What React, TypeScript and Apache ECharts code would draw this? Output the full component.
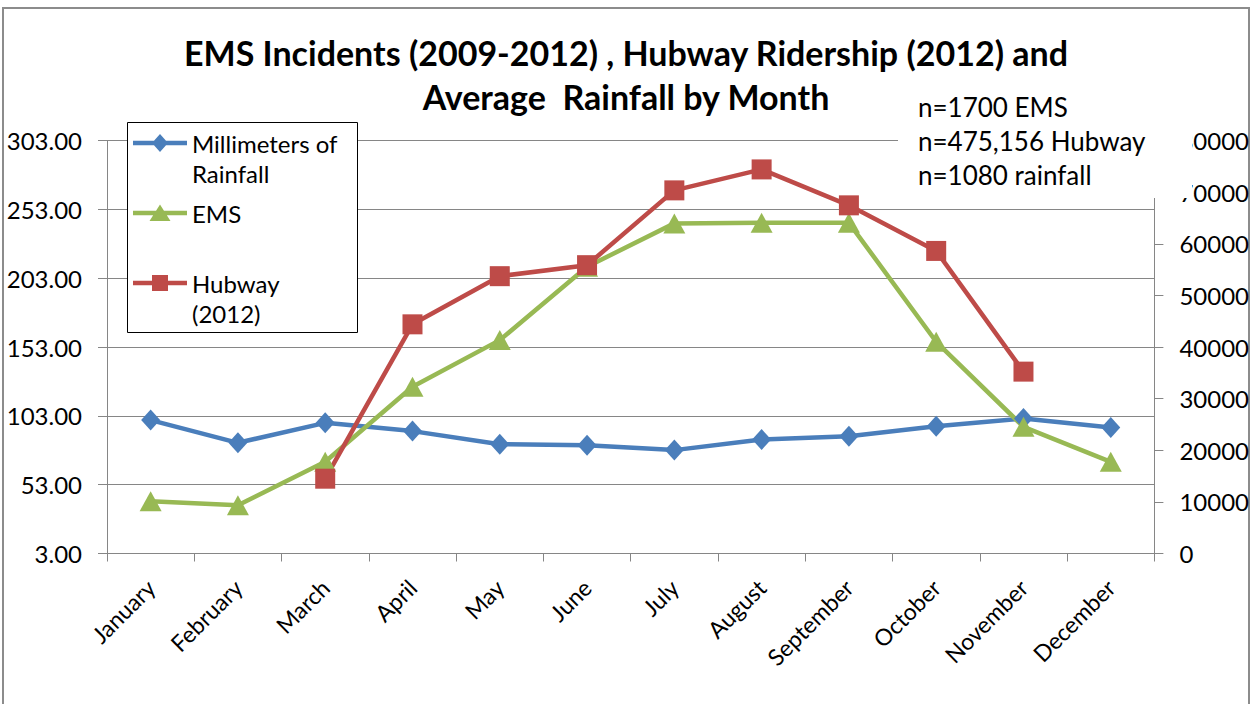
import React, { useEffect, useRef } from "react";
import * as echarts from "echarts";

const months = ["January", "February", "March", "April", "May", "June", "July", "August", "September", "October", "November", "December"];
const rainfall = [99.9, 83.4, 97.9, 91.9, 82.4, 81.7, 78.1, 85.8, 88.2, 95.5, 101.1, 94.6];
const ems = [41.0, 38.1, 69.6, 124.1, 158.0, 211.3, 242.8, 243.2, 243.2, 156.8, 95.0, 69.6];
const hubway = [null, null, 14490, 44390, 53720, 55850, 70340, 74400, 67440, 58610, 35230, null];
const leftAxis = { min: 3, max: 303, interval: 50 };
const rightAxis = { min: 0, max: 80000, interval: 10000 };
const notes = ["n=1700 EMS", "n=475,156 Hubway", "n=1080 rainfall"];
const titleText = "EMS Incidents (2009-2012) , Hubway Ridership (2012) and\nAverage  Rainfall by Month";
const legendNames = ["Millimeters of\nRainfall", "EMS\n ", "Hubway\n(2012)"];

const FONT = "Lato, 'Open Sans', sans-serif";
const BLUE = "#4A7EBB";
const GREEN = "#98B954";
const RED = "#BE4B48";
const GRID = "#868686";

// legend icons: a 54x60 box, line + marker aligned with the first text line
const CORNERS = "M0 0 L0.2 0 L0 0.2 Z M54 60 L53.8 60 L54 59.8 Z ";
const LINE = "M0 12.75 L54 12.75 L54 17.25 L0 17.25 Z ";
const ICON_DIAMOND = "path://" + CORNERS + LINE + "M27 6 L35 15 L27 24 L19 15 Z";
const ICON_TRIANGLE = "path://" + CORNERS + LINE + "M27 6.5 L37.5 23 L16.5 23 Z";
const ICON_SQUARE = "path://" + CORNERS + LINE + "M19 7 L35 7 L35 23 L19 23 Z";

export default function App() {
  const ref = useRef<HTMLDivElement>(null);
  useEffect(() => {
    if (!ref.current) return;
    const chart = echarts.init(ref.current, null, { renderer: "svg" });
    chart.setOption({
      animation: false,
      backgroundColor: "#ffffff",
      textStyle: { fontFamily: FONT },
      title: {
        text: titleText,
        left: "center",
        top: 30,
        padding: 0,
        textStyle: { fontFamily: FONT, fontWeight: "bold", fontSize: 34, lineHeight: 44, color: "#000" },
      },
      grid: { left: 107, right: 97, top: 140.5, bottom: 150.5, containLabel: false },
      legend: {
        orient: "vertical",
        left: 133,
        top: 128,
        padding: 0,
        itemGap: 10,
        itemWidth: 54,
        itemHeight: 60,
        z: 4,
        data: [
          { name: legendNames[0], icon: ICON_DIAMOND },
          { name: legendNames[1], icon: ICON_TRIANGLE },
          { name: legendNames[2], icon: ICON_SQUARE },
        ],
        textStyle: { fontFamily: FONT, fontSize: 24, lineHeight: 30, color: "#000" },
      },
      xAxis: {
        type: "category",
        data: months,
        boundaryGap: true,
        axisLine: { lineStyle: { color: GRID, width: 1 } },
        axisTick: { show: true, length: 8, lineStyle: { color: GRID } },
        axisLabel: { rotate: 45, fontSize: 23, color: "#000", margin: 30, fontFamily: FONT, interval: 0 },
        splitLine: { show: false },
      },
      yAxis: [
        {
          type: "value",
          min: leftAxis.min,
          max: leftAxis.max,
          interval: leftAxis.interval,
          position: "left",
          axisLine: { show: true, lineStyle: { color: GRID, width: 1 } },
          axisTick: { show: true, length: 9, lineStyle: { color: GRID } },
          axisLabel: { fontSize: 24, color: "#000", margin: 25, fontFamily: FONT, formatter: (v: number) => v.toFixed(2) },
          splitLine: { show: true, lineStyle: { color: GRID, width: 1 } },
        },
        {
          type: "value",
          min: rightAxis.min,
          max: rightAxis.max,
          interval: rightAxis.interval,
          position: "right",
          axisLine: { show: true, lineStyle: { color: GRID, width: 1 } },
          axisTick: { show: true, length: 9, lineStyle: { color: GRID } },
          axisLabel: { fontSize: 24, color: "#000", margin: 25, fontFamily: FONT, formatter: (v: number) => String(v) },
          splitLine: { show: false },
        },
      ],
      series: [
        {
          name: legendNames[0],
          type: "line",
          yAxisIndex: 0,
          data: rainfall,
          symbol: "diamond",
          symbolSize: [19, 21],
          lineStyle: { color: BLUE, width: 4.5 },
          itemStyle: { color: BLUE },
        },
        {
          name: legendNames[1],
          type: "line",
          yAxisIndex: 0,
          data: ems,
          symbol: "triangle",
          symbolSize: [22, 20],
          lineStyle: { color: GREEN, width: 4.5 },
          itemStyle: { color: GREEN },
        },
        {
          name: legendNames[2],
          type: "line",
          yAxisIndex: 1,
          data: hubway,
          connectNulls: false,
          symbol: "rect",
          symbolSize: 20,
          lineStyle: { color: RED, width: 4.5 },
          itemStyle: { color: RED },
        },
      ],
      graphic: [
        {
          type: "rect",
          z: 0,
          silent: true,
          shape: { x: 3, y: 8, width: 1246, height: 720 },
          style: { fill: "transparent", stroke: "#8c8c8c", lineWidth: 2 },
        },
        {
          type: "rect",
          z: 3,
          silent: true,
          shape: { x: 127.5, y: 122.5, width: 230, height: 210 },
          style: { fill: "#ffffff", stroke: "#000000", lineWidth: 1 },
        },
        {
          type: "rect",
          z: 10,
          silent: true,
          shape: { x: 898, y: 84, width: 294, height: 114 },
          style: { fill: "#ffffff" },
        },
        ...notes.map((t, i) => ({
          type: "text",
          z: 11,
          silent: true,
          x: 918,
          y: 107 + i * 34,
          style: { text: t, fontFamily: FONT, fontSize: 26, fill: "#000", verticalAlign: "middle" },
        })),
      ],
    });
    return () => chart.dispose();
  }, []);
  return <div ref={ref} style={{ position: "fixed", left: 0, top: 0, width: 1252, height: 704 }} />;
}
